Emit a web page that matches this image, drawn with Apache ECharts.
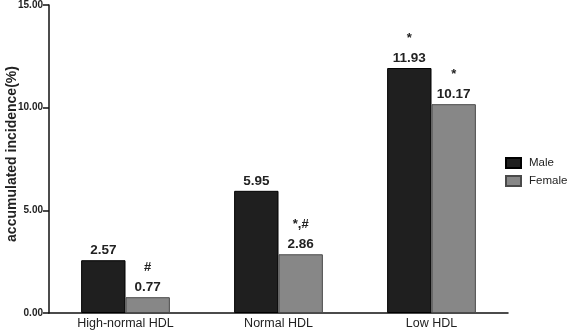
<!DOCTYPE html>
<html>
<head>
<meta charset="utf-8">
<script src="https://cdn.jsdelivr.net/npm/echarts@6/dist/echarts.min.js"></script>
<style>
  html, body { margin: 0; padding: 0; background: #fff; }
  #main { width: 567px; height: 332px; }
</style>
</head>
<body>
<div id="main"></div>
<script>
var categories = ["High-normal HDL", "Normal HDL", "Low HDL"];
var maleValues = [2.57, 5.95, 11.93];
var femaleValues = [0.77, 2.86, 10.17];
var maleMarks = ["", "", "*"];
var femaleMarks = ["#", "*,#", "*"];
var yTicks = [0, 5, 10, 15];

var font = "Liberation Sans, Arial, sans-serif";

function makeLabel(marks) {
  return {
    show: true,
    position: "top",
    distance: 2,
    fontFamily: font,
    formatter: function (p) {
      var m = marks[p.dataIndex];
      var v = "{v|" + p.value.toFixed(2) + "}";
      return m ? "{m|" + m + "}\n" + v : v;
    },
    rich: {
      m: { fontSize: 13, fontWeight: "bold", color: "#222", lineHeight: 24, fontFamily: font },
      v: { fontSize: 13.5, fontWeight: "bold", color: "#222", lineHeight: 16, fontFamily: font }
    }
  };
}

var chart = echarts.init(document.getElementById("main"));
var option = {
  animation: false,
  grid: { left: 49, right: 59, top: 5, bottom: 19, outerBoundsMode: "none", containLabel: false },
  legend: {
    orient: "vertical",
    left: 505,
    top: 157,
    padding: 0,
    icon: "rect",
    itemWidth: 15,
    itemHeight: 10,
    itemGap: 6,
    textStyle: { fontFamily: font, fontSize: 11.5, color: "#222", padding: [0, 0, 0, 3] },
    data: ["Male", "Female"]
  },
  xAxis: {
    type: "category",
    data: categories,
    axisLine: { lineStyle: { color: "#111", width: 1.5 } },
    axisTick: { show: false },
    axisLabel: { fontFamily: font, fontSize: 12.5, color: "#222", margin: 4 }
  },
  yAxis: {
    type: "value",
    min: yTicks[0],
    max: yTicks[yTicks.length - 1],
    interval: 5,
    name: "accumulated incidence(%)",
    nameLocation: "middle",
    nameGap: 30,
    nameMoveOverlap: false,
    nameTextStyle: { fontFamily: font, fontSize: 14, fontWeight: "bold", color: "#222", padding: [0, 0, 0, 10] },
    axisLine: { show: true, lineStyle: { color: "#111", width: 1.5 } },
    axisTick: { show: true, length: 6, lineStyle: { color: "#111", width: 1.5 } },
    splitLine: { show: false },
    axisLabel: {
      fontFamily: font, fontSize: 10, fontWeight: "bold", color: "#222", margin: 6,
      formatter: function (v) { return v.toFixed(2); }
    }
  },
  series: [
    {
      name: "Male",
      type: "bar",
      data: maleValues,
      barGap: "0%",
      barCategoryGap: "42%",
      itemStyle: { color: "#1f1f1f", borderColor: "#000", borderWidth: 1 },
      label: makeLabel(maleMarks)
    },
    {
      name: "Female",
      type: "bar",
      data: femaleValues,
      itemStyle: { color: "#878787", borderColor: "#4a4a4a", borderWidth: 1 },
      label: makeLabel(femaleMarks)
    }
  ]
};
chart.setOption(option);
</script>
</body>
</html>
